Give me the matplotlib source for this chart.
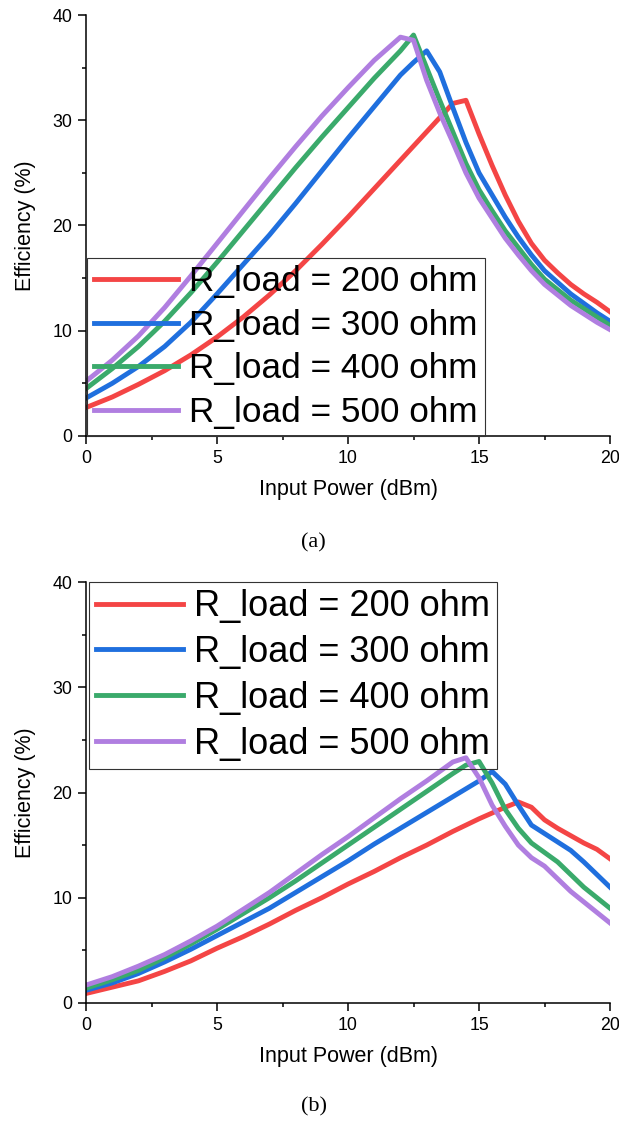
import numpy as np
import matplotlib
matplotlib.use('Agg')
import matplotlib.pyplot as plt
from matplotlib.ticker import MultipleLocator

plt.rcParams['font.family'] = ['Liberation Sans', 'DejaVu Sans']

labels = ['R_load = 200 ohm', 'R_load = 300 ohm', 'R_load = 400 ohm', 'R_load = 500 ohm']
colors = ['#F44545', '#1F6FDE', '#3AAA6B', '#B07EE0']

# (a) input power (dBm) / efficiency (%)
x_a_200 = [0, 1, 2, 3, 4, 5, 6, 7, 8, 9, 10, 11, 12, 13, 14, 14.5, 15, 15.5, 16, 16.5, 17, 17.5, 18, 18.5, 19, 19.5, 20]
y_a_200 = [2.7, 3.7, 4.9, 6.2, 7.7, 9.4, 11.3, 13.4, 15.7, 18.2, 20.8, 23.5, 26.2, 28.9, 31.6, 31.9,
           28.7, 25.7, 22.9, 20.4, 18.3, 16.7, 15.5, 14.4, 13.5, 12.7, 11.8]
x_a_300 = [0, 1, 2, 3, 4, 5, 6, 7, 8, 9, 10, 11, 12, 12.5, 13, 13.5, 14, 14.5, 15, 15.5, 16, 16.5, 17, 17.5, 18, 18.5, 19, 19.5, 20]
y_a_300 = [3.6, 5.0, 6.6, 8.5, 10.8, 13.5, 16.3, 19.1, 22.1, 25.2, 28.3, 31.3, 34.3, 35.5, 36.6, 34.6,
           31.2, 27.9, 25.0, 22.9, 20.8, 18.9, 17.2, 15.7, 14.6, 13.5, 12.6, 11.7, 10.9]
x_a_400 = [0, 1, 2, 3, 4, 5, 6, 7, 8, 9, 10, 11, 12, 12.5, 13, 13.5, 14, 14.5, 15, 15.5, 16, 16.5, 17, 17.5, 18, 18.5, 19, 19.5, 20]
y_a_400 = [4.5, 6.4, 8.5, 10.9, 13.6, 16.5, 19.5, 22.5, 25.5, 28.4, 31.2, 34.0, 36.6, 38.1, 35.0, 31.9,
           28.9, 25.9, 23.4, 21.4, 19.5, 17.9, 16.3, 14.9, 13.9, 12.9, 12.1, 11.3, 10.5]
x_a_500 = [0, 1, 2, 3, 4, 5, 6, 7, 8, 9, 10, 11, 12, 12.5, 13, 13.5, 14, 14.5, 15, 15.5, 16, 16.5, 17, 17.5, 18, 18.5, 19, 19.5, 20]
y_a_500 = [5.2, 7.2, 9.5, 12.2, 15.2, 18.3, 21.4, 24.5, 27.5, 30.4, 33.1, 35.7, 37.9, 37.6, 33.8, 30.7,
           27.9, 25.0, 22.6, 20.7, 18.8, 17.2, 15.7, 14.4, 13.4, 12.4, 11.6, 10.8, 10.1]

# (b)
x_b_200 = [0, 1, 2, 3, 4, 5, 6, 7, 8, 9, 10, 11, 12, 13, 14, 15, 16, 16.5, 17, 17.5, 18, 18.5, 19, 19.5, 20]
y_b_200 = [0.9, 1.5, 2.1, 3.0, 4.0, 5.2, 6.3, 7.5, 8.8, 10.0, 11.3, 12.5, 13.8, 15.0, 16.3, 17.5, 18.6,
           19.1, 18.6, 17.4, 16.6, 15.9, 15.2, 14.6, 13.7]
x_b_300 = [0, 1, 2, 3, 4, 5, 6, 7, 8, 9, 10, 11, 12, 13, 14, 15, 15.5, 16, 16.5, 17, 17.5, 18, 18.5, 19, 19.5, 20]
y_b_300 = [1.2, 1.9, 2.8, 3.9, 5.1, 6.4, 7.7, 9.0, 10.5, 12.0, 13.5, 15.1, 16.6, 18.1, 19.6, 21.1, 22.0,
           20.8, 18.8, 16.9, 16.1, 15.3, 14.5, 13.4, 12.2, 11.0]
x_b_400 = [0, 1, 2, 3, 4, 5, 6, 7, 8, 9, 10, 11, 12, 13, 14, 14.5, 15, 15.5, 16, 16.5, 17, 17.5, 18, 18.5, 19, 19.5, 20]
y_b_400 = [1.4, 2.2, 3.1, 4.3, 5.6, 7.0, 8.5, 10.0, 11.6, 13.3, 15.0, 16.7, 18.4, 20.1, 21.8, 22.6, 22.95,
           20.9, 18.4, 16.6, 15.2, 14.3, 13.4, 12.2, 11.0, 10.0, 9.0]
x_b_500 = [0, 1, 2, 3, 4, 5, 6, 7, 8, 9, 10, 11, 12, 13, 14, 14.5, 15, 15.5, 16, 16.5, 17, 17.5, 18, 18.5, 19, 19.5, 20]
y_b_500 = [1.7, 2.5, 3.5, 4.6, 5.9, 7.3, 8.9, 10.5, 12.3, 14.1, 15.8, 17.6, 19.4, 21.1, 22.9, 23.3, 21.4,
           18.8, 16.8, 15.0, 13.8, 13.0, 11.8, 10.6, 9.6, 8.6, 7.6]

fig = plt.figure(figsize=(6.19, 11.23), dpi=100)


def draw(rect, series, legend_loc, anchor, leg_size, caption, cap_y):
    ax = fig.add_axes(rect)
    for (xs, ys), c, lab in zip(series, colors, labels):
        ax.plot(xs, ys, color=c, lw=3.5, label=lab, solid_joinstyle='round')
    ax.set_xlim(0, 20)
    ax.set_ylim(0, 40)
    ax.xaxis.set_major_locator(MultipleLocator(5))
    ax.xaxis.set_minor_locator(MultipleLocator(2.5))
    ax.yaxis.set_major_locator(MultipleLocator(10))
    ax.yaxis.set_minor_locator(MultipleLocator(5))
    for s in ['top', 'right']:
        ax.spines[s].set_visible(False)
    for s in ['left', 'bottom']:
        ax.spines[s].set_linewidth(1.1)
    ax.tick_params(which='major', direction='out', length=6, width=1.1, labelsize=12.8, pad=4)
    ax.tick_params(which='minor', direction='out', length=3, width=1.1)
    ax.set_xlabel('Input Power (dBm)', fontsize=15.5, labelpad=9)
    ax.set_ylabel('Efficiency (%)', fontsize=15.5, labelpad=12)
    leg = ax.legend(loc=legend_loc, bbox_to_anchor=anchor, fontsize=leg_size, frameon=True,
                    fancybox=False, borderaxespad=0, borderpad=0.2, labelspacing=0.3,
                    handlelength=2.4, handletextpad=0.3, framealpha=1)
    leg.get_frame().set_facecolor('none')
    leg.get_frame().set_edgecolor('#333333')
    leg.get_frame().set_linewidth(0.8)
    for h in leg.get_lines():
        h.set_linewidth(3.5)
    fig.text(0.507, cap_y, caption, ha='center', va='center', fontsize=16,
             family=['Liberation Serif', 'DejaVu Serif'])
    return ax


draw([0.139, 0.6118, 0.8465, 0.3748],
     [(x_a_200, y_a_200), (x_a_300, y_a_300), (x_a_400, y_a_400), (x_a_500, y_a_500)],
     'lower left', (0.002, 0.0), 25.3, '(a)', 1 - 543 / 1123)
draw([0.139, 0.1069, 0.8465, 0.3748],
     [(x_b_200, y_b_200), (x_b_300, y_b_300), (x_b_400, y_b_400), (x_b_500, y_b_500)],
     'upper left', (0.006, 1.0), 26.0, '(b)', 1 - 1107 / 1123)

fig.savefig('out.png', dpi=100)
